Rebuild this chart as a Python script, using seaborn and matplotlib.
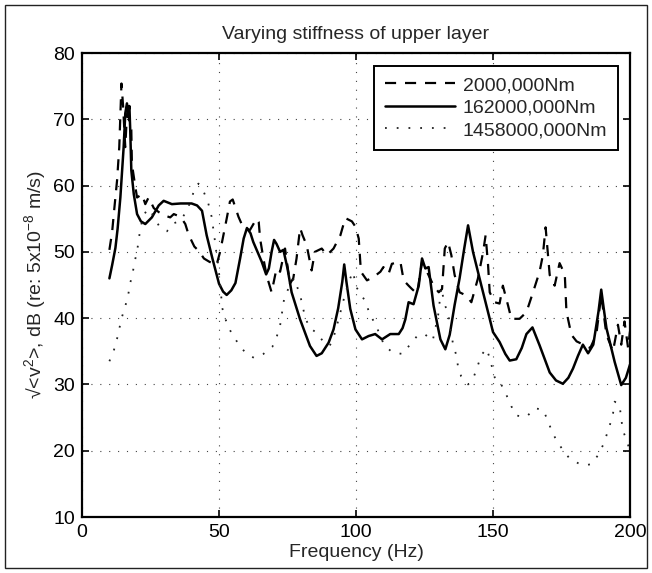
import numpy as np
import pandas as pd
import matplotlib
matplotlib.use("Agg")
import matplotlib.pyplot as plt
from matplotlib.patches import Rectangle
import seaborn as sns

# ---------------- data ----------------
labels = ["2000,000Nm", "162000,000Nm", "1458000,000Nm"]

freq_dashed = [10, 11, 11.6, 12.8, 13.6, 14.4, 15.0, 15.5, 15.8, 16.3, 16.8, 17.3, 18, 18.2, 19.5, 20.1,
               21.9, 23.1, 24.3, 25.5, 26.2, 28, 30, 32.2, 33.5, 35.3, 36.6, 37.7, 38.9, 41, 42.7, 44.5,
               46.5, 49.1, 50.4, 51.6, 52.8, 54, 55, 57.1, 58.9, 61.3, 63.7, 64.5, 65, 66.2, 67.4, 69.2,
               71, 72.3, 74.1, 75.9, 77.1, 78.3, 79.6, 80.5, 82, 83.8, 85, 87.5, 89.4, 91.8, 94.3, 96.1,
               98.5, 99.8, 101, 101.8, 104, 106.4, 108.9, 110, 111.9, 113.1, 116.2, 117.4, 119.2, 120.4,
               122.3, 124.1, 125.9, 128.3, 130.2, 131.4, 132.4, 133.6, 134.8, 136, 137.8, 140.3, 142.1,
               144.5, 146.4, 147.3, 148.2, 148.8, 150.6, 152.4, 153.6, 155.5, 156.7, 159.7, 162.2, 164.6,
               167, 168.2, 169.2, 170.7, 172.5, 174.3, 176.2, 176.8, 178.6, 180.5, 183, 185.5, 187.7,
               189.5, 191.4, 193.8, 195.6, 196.8, 198, 199.3, 200]
level_dashed = [50.3, 53, 55.7, 60.8, 65.8, 75.4, 72.0, 68, 65.8, 70, 72.3, 69, 68.4, 63.3, 59.7, 58.2,
                58.7, 57.2, 58.2, 57.2, 56.6, 56, 55.5, 55.2, 55.7, 55.4, 54.9, 54.2, 52.6, 50.8, 50.1, 49,
                48.5, 48, 50, 52.5, 55, 57.6, 57.9, 55.3, 53.6, 53.3, 55, 54.5, 52, 49, 46.4, 43.9,
                47.5, 47, 50.5, 45.2, 46, 49, 53.6, 52.5, 51, 47.2, 50, 50.5, 49.5, 50.5, 52.5, 55.1,
                54.6, 53.8, 52, 47, 45.7, 46.2, 47, 47.7, 46.7, 48.2, 48.5, 45.7, 44.9, 44.4,
                43.7, 48.5, 47, 44.9, 43.9, 44.4, 50.5, 51.5, 49.5, 46.5, 43.9, 43.4, 42.4,
                46, 50, 52.5, 48, 43.9, 42.4, 42.2, 44.9, 41.9, 39.9, 39.9, 40.9, 43.9,
                47, 49.5, 53.7, 46.5, 44.9, 48.3, 46.6, 41, 37.5, 36.5, 36, 35.5, 37.5,
                43.5, 37.5, 35, 39, 36, 39.5, 35.5, 38]

freq_solid = [10, 11, 12.2, 13, 14, 15.2, 15.8, 16.4, 16.9, 17.3, 17.6, 18.0, 18.9, 20.1, 21.5, 23.1,
              25.5, 28, 29.8, 31, 32.8, 36, 40, 42, 43.8, 45.5, 47.6, 50, 51.5, 52.8, 54.5, 56, 57.7,
              59, 60.2, 61.5, 62.5, 65.6, 67.2, 68.2, 69.2, 70.1, 71, 72.3, 73.5, 75, 76.5, 79.6, 83.2,
              85.6, 87.5, 90, 91.8, 93.5, 95, 95.7, 96.5, 97.9, 99.8, 102.2, 104.6, 107, 109.5, 112.5,
              115.6, 117, 118, 119.2, 121, 122.9, 124.1, 125.3, 126.5, 128.3, 130.8, 132.6, 134.2, 136,
              137.8, 139.5, 140.9, 142.7, 145.7, 148.8, 150, 152.4, 154.5, 156.1, 158.5, 160.5, 162.2,
              164.4, 167, 170.7, 173, 175.5, 177.5, 179.2, 181, 182.8, 184.7, 186.6, 188.5, 189.5,
              190.4, 191.4, 194.4, 196.8, 198.5, 200]
level_solid = [46, 48, 50.6, 53.5, 58.2, 65.8, 70.9, 72.4, 71.0, 72.0, 68.4, 62.3, 58.7, 55.7, 54.6, 54.2,
               55.2, 57, 57.7, 57.5, 57.2, 57.3, 57.3, 57.0, 56.2, 52.5, 49, 45.2, 44, 43.5, 44.2, 45.3, 49,
               52, 53.6, 52.8, 51.5, 48.5, 46.6, 47.5, 50, 51.8, 51.2, 50, 50.3, 47.5, 43.9, 39.8, 35.8,
               34.3, 34.7, 36.3, 38.3, 41.5, 45.5, 48.1, 45.5, 41.4, 38.3, 36.8, 37.3, 37.6, 36.8, 37.6,
               37.6, 38.5, 39.8, 42.4, 42.1, 44.9, 49, 47.5, 47.7, 41.9, 36.8, 35.3, 37.5, 42,
               46, 50.5, 54, 50, 45, 39.9, 37.9, 36.4, 34.6, 33.6, 33.8, 35.5, 37.6,
               38.6, 35.9, 31.8, 30.6, 30.1, 31, 32.4, 34.3, 36, 34.7, 36, 41, 44.3,
               41.5, 38.5, 33.4, 29.9, 31, 33]

freq_dotted = [10, 11.6, 12.8, 13.6, 14.6, 15.8, 16.9, 17.6, 18.5, 19.1, 20.1, 20.7, 21.3, 22.5, 24, 25.5,
               28, 31, 32.9, 35.8, 38, 39.5, 41.2, 42.5, 44.3, 46.1, 47.3, 48.5, 49.1, 49.8, 50.4, 51.2,
               53, 54.9, 57.3, 59.8, 62.8, 66.2, 69.5, 71, 72.3, 73.8, 75.9, 77.4, 79.6, 81.5, 83.2, 85.6,
               88, 90.3, 91.5, 92.7, 93.9, 95.1, 97, 98.8, 100.4, 102.4, 103.6, 104.9, 107.3, 110.3, 113.4,
               117, 119.5, 122.5, 125, 128, 130, 131.1, 132.4, 133.6, 135.4, 136.6, 137.2, 138.4, 140.9,
               142.7, 144.5, 145.7, 147.6, 148.8, 150, 151, 153, 154.9, 156.7, 158.5, 162.2, 165.2, 168.2,
               170, 171.3, 173.1, 175.5, 178, 181.6, 184, 185.9, 188.3, 190.1, 191.4, 192.6, 193.8, 194.4,
               196.2, 196.8, 197.4, 198.7, 200]
level_dotted = [33.5, 35.1, 36.9, 38.4, 40.2, 41.8, 43.6, 45.3, 46.8, 48.3, 50.1, 51.8, 53.6, 55.5, 56.5, 55.8,
                54, 53.1, 54.2, 54.7, 56, 57.5, 59.6, 60.3, 59.2, 57.3, 55.3, 51.7, 49.7, 47.7, 45.2, 41.5,
                39, 37.5, 36, 34.7, 34, 34.6, 35.7, 37.1, 38.9, 43, 45, 46, 43.5, 40, 38.5, 37.8,
                36.5, 35.8, 36.6, 38.4, 40.2, 42.2, 45, 47, 44.5, 43.2, 42.4, 40.7, 38.9, 35.9, 34.8,
                34.6, 35.9, 37.4, 37.6, 36.6, 40.5, 44.6, 42, 40.8, 36.1, 34.4, 32.8, 31.2, 30,
                30.8, 32.9, 34.4, 35.4, 34, 32, 30.5, 30, 28.4, 26.7, 25.3, 25.1, 26.4, 26.2,
                24.6, 23.1, 21.6, 20.1, 18.8, 18, 17.8, 18, 19.3, 20.8, 22.3, 23.8, 25.6, 27.4,
                26.9, 24.8, 23.1, 21.6, 20]

x_ticks = [0, 50, 100, 150, 200]
y_ticks = [10, 20, 30, 40, 50, 60, 70, 80]

# ---------------- style ----------------
sns.set_style("ticks")
plt.rcParams["font.family"] = ["Liberation Sans", "DejaVu Sans"]
plt.rcParams["mathtext.fontset"] = "custom"
plt.rcParams["mathtext.rm"] = "Liberation Sans"
plt.rcParams["mathtext.it"] = "Liberation Sans:italic"
plt.rcParams["mathtext.default"] = "rm"

fig = plt.figure(figsize=(6.52, 5.73), dpi=100)
ax = fig.add_axes([82 / 652, 1 - 517 / 573, 548 / 652, 464 / 573])

df_d = pd.DataFrame({"f": freq_dashed, "v": level_dashed})
df_s = pd.DataFrame({"f": freq_solid, "v": level_solid})
df_o = pd.DataFrame({"f": freq_dotted, "v": level_dotted})

sns.lineplot(data=df_d, x="f", y="v", ax=ax, color="black", linewidth=1.6,
             linestyle=(0, (5, 4)), estimator=None, label=labels[0])
sns.lineplot(data=df_s, x="f", y="v", ax=ax, color="black", linewidth=1.8,
             linestyle="-", estimator=None, label=labels[1])
sns.lineplot(data=df_o, x="f", y="v", ax=ax, color="#222222", linewidth=1.3,
             linestyle=(0, (1, 5.5)), estimator=None, label=labels[2])

ax.set_xlim(0, 200)
ax.set_ylim(10, 80)
ax.set_xticks(x_ticks)
ax.set_yticks(y_ticks)
ax.grid(True, linestyle=(0, (1, 7)), color="#444444", linewidth=0.8)
ax.set_axisbelow(True)

for s in ax.spines.values():
    s.set_visible(True)
    s.set_linewidth(1.6)
    s.set_color("black")

ax.tick_params(direction="in", top=True, right=True, length=5, width=1.2,
               labelsize=14, pad=5, colors="black")

ax.set_title("Varying stiffness of upper layer", fontsize=14, pad=10)
ax.set_xlabel("Frequency (Hz)", fontsize=14, labelpad=2)
ax.set_ylabel("√<v$^2$>, dB (re: 5x10$^{-8}$ m/s)", fontsize=14, labelpad=4)

leg = ax.legend(loc="upper right", bbox_to_anchor=(0.978, 0.972), borderaxespad=0,
                fontsize=14, handlelength=3.6, handletextpad=0.4, labelspacing=0.25,
                borderpad=0.55, fancybox=False, framealpha=1, edgecolor="black")
leg.get_frame().set_linewidth(1.4)

fig.patches.append(Rectangle((5 / 652, 5 / 573), 642 / 652, 563 / 573,
                             transform=fig.transFigure, fill=False,
                             edgecolor="#222222", linewidth=1.0))

fig.savefig("out.png", dpi=100)
